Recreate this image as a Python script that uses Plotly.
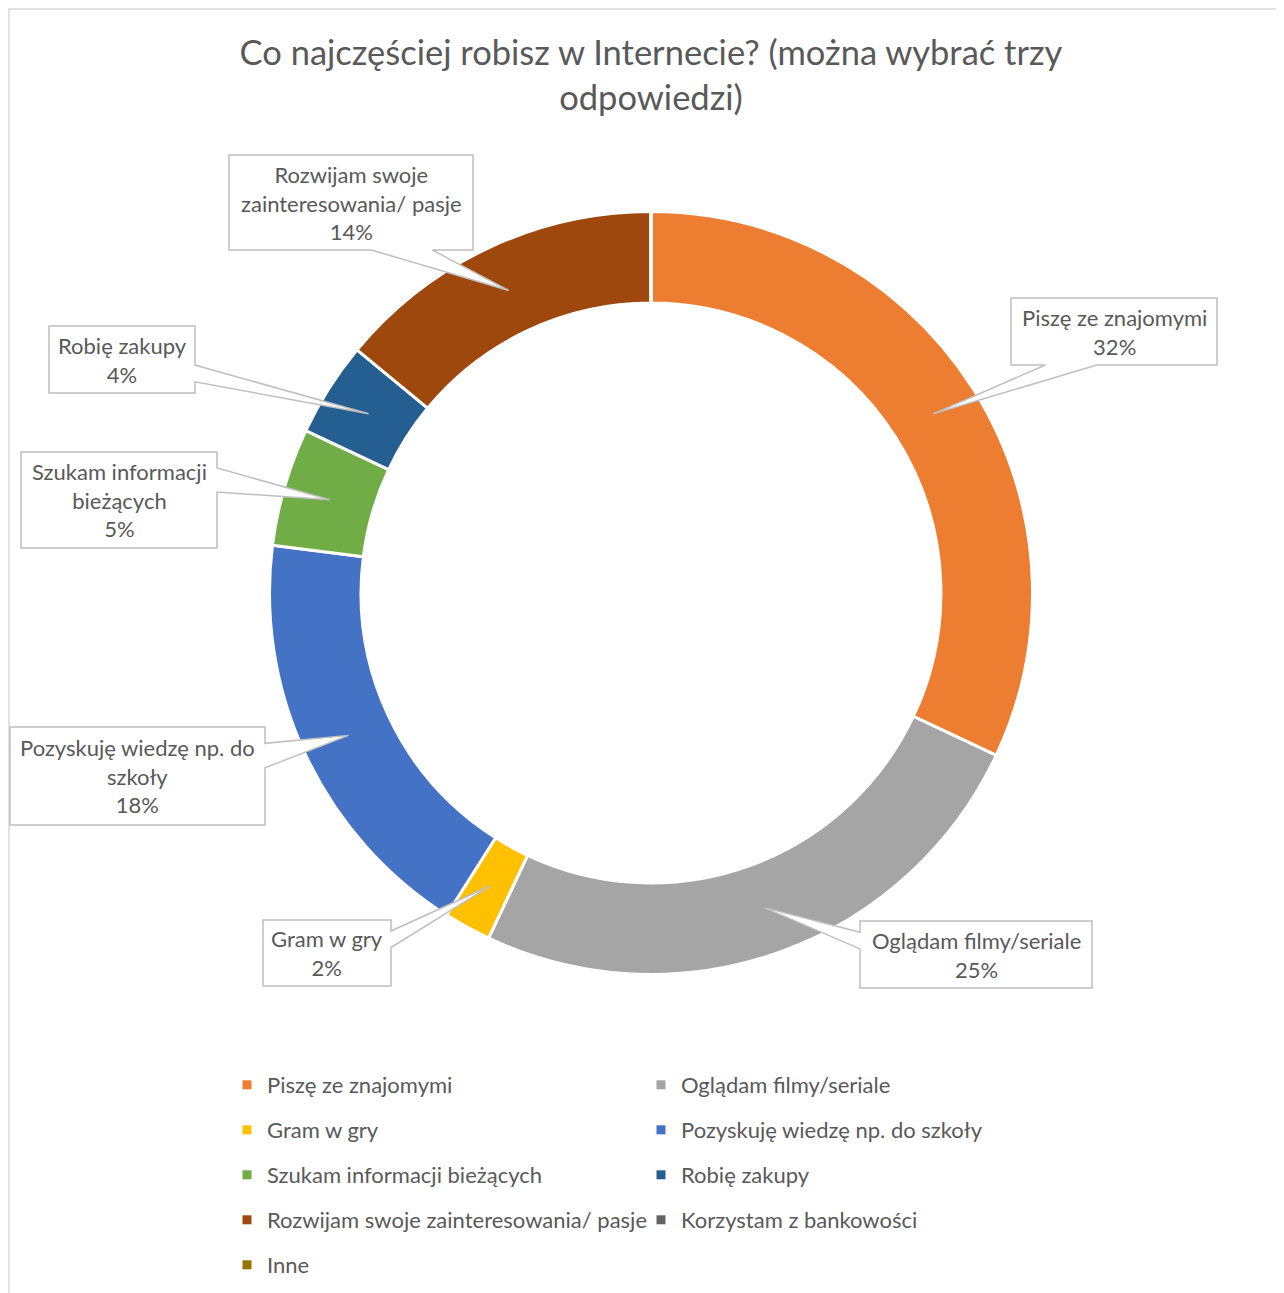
import textwrap
import numpy as np
import plotly.graph_objects as go

# ---- data ----
labels = [
    "Piszę ze znajomymi",
    "Oglądam filmy/seriale",
    "Gram w gry",
    "Pozyskuję wiedzę np. do szkoły",
    "Szukam informacji bieżących",
    "Robię zakupy",
    "Rozwijam swoje zainteresowania/ pasje",
    "Korzystam z bankowości",
    "Inne",
]
values = [32, 25, 2, 18, 5, 4, 14, 0, 0]
title_text = "Co najczęściej robisz w Internecie? (można wybrać trzy<br>odpowiedzi)"

# ---- styles / layout ----
colors = ["#ED7D31", "#A5A5A5", "#FFC000", "#4472C4", "#70AD47",
          "#255E91", "#9E480E", "#636363", "#997300"]
W, H = 1284, 1293
OFF = 8  # page body margin
CX, CY, R_OUT = 651, 593, 381.5
HOLE = 0.76
FONT = "Lato"
TXT = "#595959"
LINE = "#BFBFBF"
FS = 22
# callout boxes (x0, y0, x1, y1) in page pixels, same order as labels
boxes = [(1011, 298, 1217, 365), (860, 921, 1092, 988), (263, 920, 391, 986),
         (10, 727, 265, 825), (21, 452, 217, 548), (49, 326, 195, 393),
         (229, 155, 473, 250), None, None]


def px(x):
    return (x - OFF) / W


def py(y):
    return 1 - (y - OFF) / H


dom_x = [px(CX - R_OUT), px(CX + R_OUT)]
dom_y = [py(CY + R_OUT), py(CY - R_OUT)]

fig = go.Figure(go.Pie(
    labels=labels, values=values, sort=False, direction="clockwise",
    rotation=0, hole=HOLE, textinfo="none", hoverinfo="label+percent",
    marker=dict(colors=colors, line=dict(color="white", width=3)),
    domain=dict(x=dom_x, y=dom_y), showlegend=False,
))

# legend: one legend box per row, two entries per row
legends = {}
for i, (lab, col) in enumerate(zip(labels, colors)):
    row = i // 2
    lname = "legend" if row == 0 else f"legend{row + 1}"
    fig.add_trace(go.Scatter(
        x=[None], y=[None], mode="markers", name=lab, legend=lname,
        marker=dict(symbol="square", size=9, color=col), hoverinfo="skip",
    ))
    legends[lname] = dict(
        orientation="h", x=px(227), xanchor="left",
        y=py(1085 + 45 * row), yanchor="middle",
        entrywidth=369, entrywidthmode="pixels",
        font=dict(family=FONT, size=FS, color=TXT),
        traceorder="normal", bgcolor="rgba(0,0,0,0)",
    )


def callout_path(box, tip):
    x0, y0, x1, y1 = box
    w, h = x1 - x0, y1 - y0
    cx, cy = (x0 + x1) / 2, (y0 + y1) / 2
    dx, dy = tip[0] - cx, tip[1] - cy
    if abs(dx) / w > abs(dy) / h:
        edge = "right" if dx > 0 else "left"
        a, b = ((2 / 12, 5 / 12) if dy < 0 else (7 / 12, 10 / 12))
    else:
        edge = "bottom" if dy > 0 else "top"
        a, b = ((2 / 12, 5 / 12) if dx < 0 else (7 / 12, 10 / 12))
    pts = [(x0, y0)]
    if edge == "top":
        pts += [(x0 + a * w, y0), tip, (x0 + b * w, y0)]
    pts.append((x1, y0))
    if edge == "right":
        pts += [(x1, y0 + a * h), tip, (x1, y0 + b * h)]
    pts.append((x1, y1))
    if edge == "bottom":
        pts += [(x0 + b * w, y1), tip, (x0 + a * w, y1)]
    pts.append((x0, y1))
    if edge == "left":
        pts += [(x0, y0 + b * h), tip, (x0, y0 + a * h)]
    return "M " + " L ".join(f"{px(x):.5f},{py(y):.5f}" for x, y in pts) + " Z"


# callouts: tip at ring middle, mid-angle of each slice
total = sum(values)
cum = np.cumsum([0] + values[:-1])
r_mid = 380 * (1 + HOLE) / 2
annotations, shapes = [], []
shapes.append(dict(type="rect", xref="paper", yref="paper",
                   x0=px(9), x1=1.02, y0=-0.02, y1=py(9),
                   line=dict(color="#D9D9D9", width=1.5), layer="below"))
for lab, v, c0, bx in zip(labels, values, cum, boxes):
    if bx is None or v == 0:
        continue
    ang = 2 * np.pi * (c0 + v / 2) / total
    tip = (CX + r_mid * np.sin(ang), CY - r_mid * np.cos(ang))
    shapes.append(dict(type="path", xref="paper", yref="paper",
                       path=callout_path(bx, tip), fillcolor="white",
                       line=dict(color=LINE, width=1.5), layer="above"))
    txt = "<br>".join(textwrap.wrap(lab, 23)) + f"<br>{round(100 * v / total)}%"
    annotations.append(dict(
        x=px((bx[0] + bx[2]) / 2), y=py((bx[1] + bx[3]) / 2),
        xref="paper", yref="paper", xanchor="center", yanchor="middle",
        text=txt, showarrow=False, align="center",
        font=dict(family=FONT, size=FS, color=TXT),
    ))

fig.update_layout(
    width=W, height=H,
    margin=dict(l=0, r=0, t=0, b=0),
    paper_bgcolor="white", plot_bgcolor="white",
    font=dict(family=FONT, color=TXT),
    title=dict(text=title_text, x=px(CX), xanchor="center", xref="paper",
               y=1 - 57 / H, yanchor="top", yref="container",
               font=dict(family=FONT, size=34.5, color=TXT)),
    xaxis=dict(visible=False), yaxis=dict(visible=False),
    annotations=annotations,
    shapes=shapes,
    **legends,
)

fig.write_html("out.html")
